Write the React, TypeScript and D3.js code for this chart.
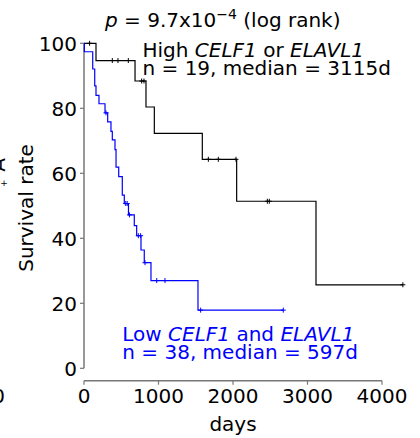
import React from 'react'
import * as d3 from 'd3'

// High CELF1 or ELAVL1 (n = 19)
const highTimes = [0, 161, 685, 832, 944, 1588, 2049, 3114, 4280]
const highSurv = [100, 94.7, 88.4, 80.4, 72.3, 64.3, 51.4, 25.7, 25.7]
const highCensor = [75, 380, 456, 595, 774, 805, 1669, 1803, 2040, 2461, 2487, 4280]

// Low CELF1 and ELAVL1 (n = 38)
const lowTimes = [0, 5, 117, 144, 161, 201, 282, 318, 362, 380, 416, 430, 466, 514, 541, 597, 675, 707, 765, 809, 899, 1530, 2675]
const lowSurv = [100, 97.4, 92.1, 86.9, 84.0, 81.4, 78.6, 75.8, 72.9, 70.3, 67.3, 61.9, 59.0, 53.3, 50.7, 47.2, 43.9, 40.8, 36.4, 32.5, 27.0, 17.9, 17.9]
const lowCensor = [295, 560, 580, 610, 729, 760, 819, 976, 1087, 1566, 2675]

const yTicks = [0, 20, 40, 60, 80, 100]
const xTicks = [0, 1000, 2000, 3000, 4000]

const FONT = 'DejaVu Sans'
const AXIS = '#777'

function survivalAt(times: number[], surv: number[], t: number) {
  let s = surv[0]
  for (let i = 0; i < times.length; i++) if (times[i] <= t) s = surv[i]
  return s
}

function Curve({ times, surv, censor, color, x, y }: {
  times: number[]; surv: number[]; censor: number[]; color: string
  x: d3.ScaleLinear<number, number>; y: d3.ScaleLinear<number, number>
}) {
  const pts = times.map((t, i) => [t, surv[i]] as [number, number])
  const line = d3.line<[number, number]>()
    .x(d => x(d[0]))
    .y(d => y(d[1]))
    .curve(d3.curveStepAfter)
  return (
    <g>
      <path d={line(pts) ?? ''} fill="none" stroke={color} strokeWidth={1.2} />
      {censor.map((t, i) => {
        const cx = x(t)
        const cy = y(survivalAt(times, surv, t))
        return (
          <path key={i} d={`M${cx - 2.5},${cy}H${cx + 2.5}M${cx},${cy - 2.5}V${cy + 2.5}`}
            stroke={color} strokeWidth={1} />
        )
      })}
    </g>
  )
}

export default function App() {
  const width = 420
  const height = 438

  const x = d3.scaleLinear().domain([0, 4000]).range([84, 382])
  const y = d3.scaleLinear().domain([0, 100]).range([368.3, 43.3])
  const xAxisY = 380.7
  const yAxisX = 84

  return (
    <svg width={width} height={height} style={{ position: 'absolute', left: 0, top: 0 }}
      fontFamily={FONT}>
      <rect width={width} height={height} fill="white" />

      {/* bits of the neighbouring panel */}
      <text x={5} y={403} textAnchor="end" fontSize={20}>0</text>
      <text transform="translate(4.7,165) rotate(-90)" textAnchor="middle" fontSize={20}>A</text>
      <text x={4} y={186} textAnchor="middle" fontSize={9}>+</text>

      {/* title */}
      <text x={105} y={26.5} fontSize={20}>
        <tspan fontStyle="italic">p</tspan>
        <tspan> = 9.7x10</tspan>
        <tspan dy={-8} fontSize={14}>−4</tspan>
        <tspan dy={8}> (log rank)</tspan>
      </text>

      {/* y axis */}
      <line x1={yAxisX} x2={yAxisX} y1={y(100)} y2={y(0)} stroke={AXIS} strokeWidth={1.5} />
      {yTicks.map(t => (
        <g key={t}>
          <line x1={yAxisX - 4} x2={yAxisX} y1={y(t)} y2={y(t)} stroke={AXIS} strokeWidth={1.2} />
          <text x={yAxisX - 7} y={y(t)} dy="0.36em" textAnchor="end" fontSize={20}>{t}</text>
        </g>
      ))}
      <text transform={`translate(33,208) rotate(-90)`} textAnchor="middle" fontSize={20}>Survival rate</text>

      {/* x axis */}
      <line x1={x(0)} x2={x(4000)} y1={xAxisY} y2={xAxisY} stroke={AXIS} strokeWidth={1.5} />
      {xTicks.map(t => (
        <g key={t}>
          <line x1={x(t)} x2={x(t)} y1={xAxisY} y2={xAxisY + 4} stroke={AXIS} strokeWidth={1.2} />
          <text x={x(t)} y={403} textAnchor="middle" fontSize={20}>{t}</text>
        </g>
      ))}
      <text x={233} y={430.5} textAnchor="middle" fontSize={20}>days</text>

      {/* curves */}
      <Curve times={highTimes} surv={highSurv} censor={highCensor} color="#000" x={x} y={y} />
      <Curve times={lowTimes} surv={lowSurv} censor={lowCensor} color="#0000ff" x={x} y={y} />

      {/* labels */}
      <text x={142.5} y={57.3} fontSize={20}>
        High <tspan fontStyle="italic">CELF1</tspan> or <tspan fontStyle="italic">ELAVL1</tspan>
      </text>
      <text x={142.5} y={75} fontSize={20}>n = 19, median = 3115d</text>

      <text x={122.3} y={341} fontSize={20} fill="#0000ff">
        Low <tspan fontStyle="italic">CELF1</tspan> and <tspan fontStyle="italic">ELAVL1</tspan>
      </text>
      <text x={122.3} y={358.5} fontSize={20} fill="#0000ff">n = 38, median = 597d</text>
    </svg>
  )
}
